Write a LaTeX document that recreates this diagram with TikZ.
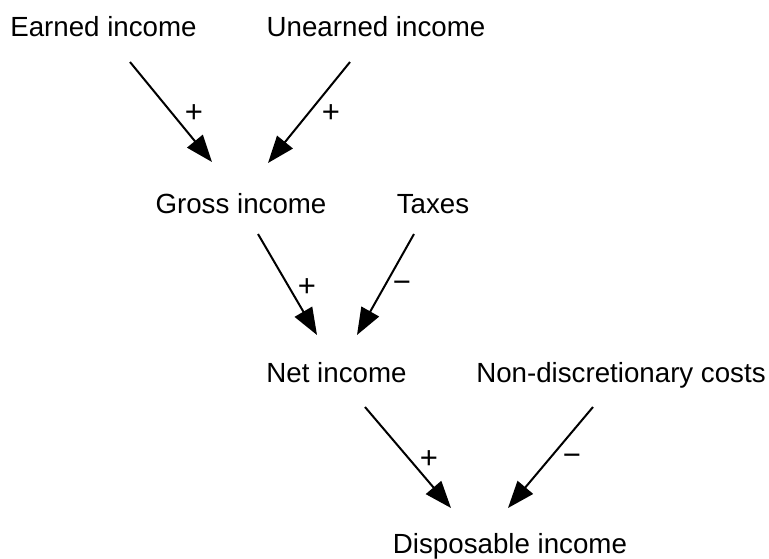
\documentclass[tikz,border=0pt]{standalone}
\usepackage{fontspec}
\setmainfont{Liberation Sans}
\usetikzlibrary{arrows.meta}
\begin{document}
\begin{tikzpicture}[x=1pt,y=-1pt,
  lbl/.style={inner sep=0pt, anchor=base, font=\fontsize{27.7}{32}\selectfont},
  sgn/.style={inner sep=0pt, font=\fontsize{31}{36}\selectfont},
  link/.style={line width=2pt, -{Triangle[length=27pt,width=20pt]}}]
\useasboundingbox (0,0) rectangle (769,558);
% text nodes
\node[lbl] (earned) at (103.5,36) {Earned income};
\node[lbl] (unearned) at (376,36) {Unearned income};
\node[lbl] (gross) at (241,213) {Gross income};
\node[lbl] (taxes) at (433,213) {Taxes};
\node[lbl] (net) at (336.5,382) {Net income};
\node[lbl] (nondisc) at (621,382) {Non-discretionary costs};
\node[lbl] (disp) at (510,553) {Disposable income};
% connector end points
\coordinate (e1s) at (130,62);  \coordinate (e1t) at (212,162);
\coordinate (e2s) at (350,62);  \coordinate (e2t) at (268,163);
\coordinate (e3s) at (258,234); \coordinate (e3t) at (317,335);
\coordinate (e4s) at (414,234); \coordinate (e4t) at (357,335);
\coordinate (e5s) at (365,407); \coordinate (e5t) at (451,508);
\coordinate (e6s) at (593,407); \coordinate (e6t) at (508,508);
% connectors
\draw[link] (e1s) -- (e1t);
\draw[link] (e2s) -- (e2t);
\draw[link] (e3s) -- (e3t);
\draw[link] (e4s) -- (e4t);
\draw[link] (e5s) -- (e5t);
\draw[link] (e6s) -- (e6t);
% signs
\node[sgn] (s1) at (194,114) {+};
\node[sgn] (s2) at (331,114) {+};
\node[sgn] (s3) at (307,288) {+};
\node[sgn] (s4) at (402,287) {−};
\node[sgn] (s5) at (429,460) {+};
\node[sgn] (s6) at (572,460) {−};
\end{tikzpicture}
\end{document}
